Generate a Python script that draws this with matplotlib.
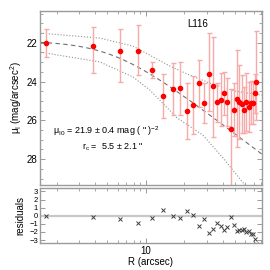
import numpy as np
import matplotlib
matplotlib.use('Agg')
import matplotlib.pyplot as plt
from matplotlib.ticker import MultipleLocator, LogLocator, NullFormatter, FixedLocator

plt.rcParams['font.family'] = ['Liberation Sans', 'DejaVu Sans']
plt.rcParams['mathtext.default'] = 'regular'

# surface brightness profile (radius in arcsec, mu in mag/arcsec^2)
radius = [1.65, 3.85, 6.22, 8.71, 11.2, 13.6, 16.2, 18.6, 21.1, 23.5,
          26.1, 28.6, 31.1, 33.5, 35.9, 38.5, 41.0, 43.5, 46.1, 48.5,
          51.2, 53.7, 56.1, 58.7, 60.9, 63.6, 66.1, 68.5, 70.9, 73.3]
mu = [22.00, 22.17, 22.44, 22.41, 23.41, 24.73, 24.39, 24.35, 25.52, 25.20,
      24.07, 25.08, 23.61, 24.23, 25.06, 24.94, 24.57, 25.06, 26.42, 25.46,
      24.89, 25.04, 25.16, 25.47, 25.07, 25.32, 25.09, 25.09, 24.60, 24.00]
err_bright = [0.72, 0.96, 1.13, 1.32, 0.40, 1.10, 1.36, 1.37, 1.44, 1.49,
              1.16, 1.03, 2.10, 2.53, 0.98, 1.38, 1.07, 1.24, 2.03, 1.39,
              2.53, 1.90, 1.50, 1.20, 1.50, 1.30, 1.10, 1.10, 1.00, 2.60]
err_faint = [0.75, 1.41, 1.57, 1.26, 0.43, 1.13, 1.34, 1.38, 1.43, 1.49,
             1.22, 1.05, 1.90, 2.63, 1.00, 1.34, 1.16, 1.22, 4.00, 1.37,
             2.47, 1.90, 1.50, 1.20, 1.50, 1.30, 1.10, 1.10, 1.00, 2.00]

# fit parameters
mu0 = 21.9
rc = 5.5

# envelopes
upper_r = [1.48, 4.37, 7.91, 11.1, 15.4, 22.1, 31.7, 49.7, 80.9]
upper_mu = [21.50, 21.76, 22.17, 22.69, 23.20, 23.67, 24.08, 24.49, 24.70]
lower_r = [1.48, 4.37, 7.91, 10.7, 17.5, 27.9, 41.5, 59.6]
lower_mu = [22.48, 22.99, 23.76, 24.43, 25.87, 26.76, 28.05, 29.34]

res_ticks = [-3, -2, -1, 0, 1, 2, 3]

def model(r):
    r = np.asarray(r)
    return mu0 + 2.5 * np.log10(1 + (r / rc) ** 2)

residuals = np.array(mu) - model(radius)

fig = plt.figure(figsize=(2.7, 2.7), dpi=100)
ax = fig.add_axes([0.148, 0.315, 0.821, 0.645])
axr = fig.add_axes([0.148, 0.099, 0.821, 0.204])

spine_c = '#9a9a9a'
xlim = (1.48, 80.5)

# main panel
rr = np.logspace(np.log10(xlim[0]), np.log10(xlim[1]), 200)
ax.plot(rr, model(rr), color='#707070', lw=0.8, dashes=(4, 3))
ax.plot(upper_r, upper_mu, color='#909090', lw=0.8, ls=':')
ax.plot(lower_r, lower_mu, color='#909090', lw=0.8, ls=':')
ax.errorbar(radius, mu, yerr=[err_bright, err_faint], fmt='o', color='red',
            ms=3.0, ecolor='#f6aaaa', elinewidth=1.0, capsize=1.8, capthick=1.0)
ax.set_xscale('log')
ax.set_xlim(*xlim)
ax.set_ylim(29.33, 20.35)
ax.yaxis.set_major_locator(MultipleLocator(2))
ax.yaxis.set_minor_locator(MultipleLocator(0.5))
ax.xaxis.set_major_locator(LogLocator(base=10))
ax.xaxis.set_minor_locator(LogLocator(base=10, subs=np.arange(2, 10)))
ax.xaxis.set_major_formatter(NullFormatter())
ax.xaxis.set_minor_formatter(NullFormatter())
ax.set_ylabel(r'$\mu_I$ (mag/arcsec$^2$)', fontsize=7, labelpad=2)
fig.text(198 / 270, 1 - 24 / 270, 'L116', fontsize=7, ha='center', va='center')
ax.text(0.06, 0.31, r'$\mu_{I0}$ = 21.9 $\pm$ 0.4 mag ( " )$^{-2}$',
        transform=ax.transAxes, fontsize=6.5, ha='left', va='center')
ax.text(0.19, 0.215, r'r$_c$ =  5.5 $\pm$ 2.1 "',
        transform=ax.transAxes, fontsize=6.5, ha='left', va='center')

# residuals panel
axr.axhline(0, color='#c8c8c8', lw=1.6)
axr.plot(radius, residuals, ls='none', marker='x', color='#404040', ms=3, mew=0.7)
axr.set_xscale('log')
axr.set_xlim(*xlim)
axr.set_ylim(-3.4, 3.4)
axr.yaxis.set_major_locator(FixedLocator(res_ticks))
axr.xaxis.set_minor_locator(LogLocator(base=10, subs=np.arange(2, 10)))
axr.xaxis.set_minor_formatter(NullFormatter())
axr.set_xticks([10])
axr.set_xticklabels(['10'])
axr.set_xlabel('R (arcsec)', fontsize=7, labelpad=1)
axr.set_ylabel('residuals', fontsize=7, labelpad=3)

for a in (ax, axr):
    for s in a.spines.values():
        s.set_color(spine_c)
        s.set_linewidth(1.0)
    a.tick_params(which='both', direction='in', top=True, right=True,
                  color=spine_c, labelsize=7, pad=2)
    a.tick_params(which='major', length=3.5, width=0.7)
    a.tick_params(which='minor', length=2, width=0.6)
axr.tick_params(axis='y', labelsize=5.5, pad=1.5)

fig.savefig('out.png', dpi=100)
